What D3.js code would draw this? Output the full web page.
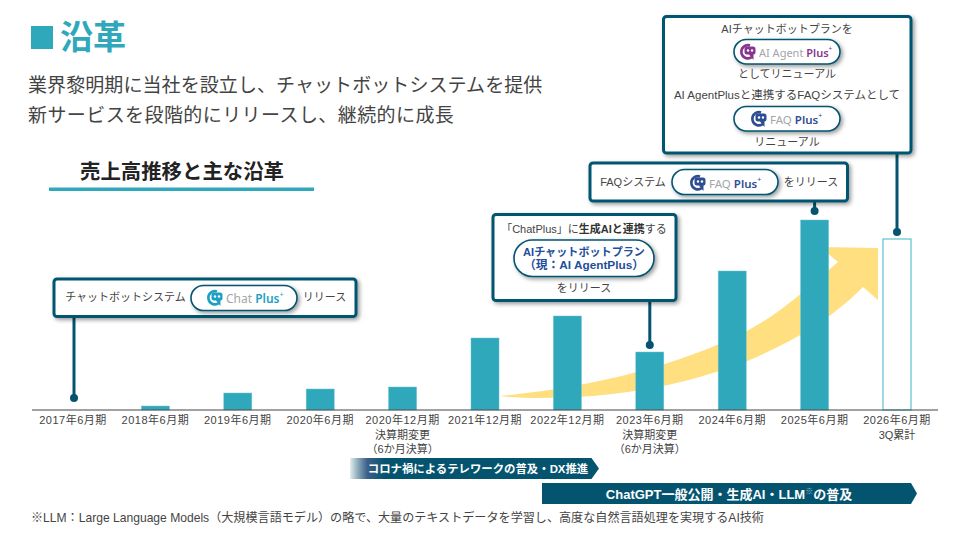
<!DOCTYPE html>
<html lang="ja">
<head>
<meta charset="utf-8">
<script src="https://cdnjs.cloudflare.com/ajax/libs/d3/7.8.5/d3.min.js"></script>
<style>
  html, body { margin: 0; padding: 0; background: #fff; }
  svg { display: block; }
  text { font-family: "Liberation Sans", "Noto Sans CJK JP", sans-serif; fill: #444; }
</style>
</head>
<body>
<script>
// chart data, the y axis has no labels so sales are in relative units
const categories = ["2017年6月期", "2018年6月期", "2019年6月期", "2020年6月期", "2020年12月期", "2021年12月期",
  "2022年12月期", "2023年6月期", "2024年6月期", "2025年6月期", "2026年6月期"];
const subLabels = [[], [], [], [], ["決算期変更", "（6か月決算）"], [], [], ["決算期変更", "（6か月決算）"], [], [], ["3Q累計"]];
const sales = [0, 4, 17, 21, 23, 72, 94, 58, 139, 190, 171];
const outlined = ["2026年6月期"];

const w = 968, h = 543;
const teal = "#2fa8bc", navy = "#04546f", yellow = "#ffdf80";

const svg = d3.select("body").append("svg").attr("width", w).attr("height", h);

// shadow for the callouts and pills
const defs = svg.append("defs");
defs.append("filter").attr("id", "shadow")
  .attr("x", "-10%").attr("y", "-20%").attr("width", "125%").attr("height", "150%")
  .append("feDropShadow").attr("dx", 2).attr("dy", 2).attr("stdDeviation", 2)
  .attr("flood-color", "#000").attr("flood-opacity", 0.4);
const fade = defs.append("linearGradient").attr("id", "fade");
fade.append("stop").attr("offset", "0%").attr("stop-color", "#04546f").attr("stop-opacity", 0.1);
fade.append("stop").attr("offset", "7%").attr("stop-color", "#3d5f88");
fade.append("stop").attr("offset", "14%").attr("stop-color", navy);

// scales
const x = d3.scaleBand().domain(categories).range([31.8, 938.2]).paddingInner(0.66).paddingOuter(0.33);
const y = d3.scaleLinear().domain([0, 200]).range([410, 210]);
const cx = c => x(c) + x.bandwidth() / 2;

function label(str, px, py, size, opts = {}) {
  return svg.append("text").attr("x", px).attr("y", py)
    .attr("font-size", size)
    .attr("text-anchor", opts.anchor || "middle")
    .attr("dominant-baseline", "central")
    .attr("font-weight", opts.weight || 400)
    .attr("letter-spacing", opts.spacing || null)
    .style("fill", opts.fill || "#444")
    .text(str);
}

// header
svg.append("rect").attr("x", 31).attr("y", 26).attr("width", 22).attr("height", 23).attr("fill", teal);
label("沿革", 60, 37, 33, { anchor: "start", weight: 700, fill: teal });
label("業界黎明期に当社を設立し、チャットボットシステムを提供", 28, 85, 19, { anchor: "start", spacing: 0.08 });
label("新サービスを段階的にリリースし、継続的に成長", 28, 115, 19, { anchor: "start", spacing: 0.42 });
label("売上高推移と主な沿革", 182, 172, 20.4, { weight: 700, fill: "#222" });
svg.append("rect").attr("x", 49).attr("y", 187.5).attr("width", 265).attr("height", 3.5).attr("fill", teal);

// growth arrow behind the bars
svg.append("path")
  .attr("d", "M499,396 C590,388 680,365 745,332 C780,314 805,290 838,262 L820,247 L878,248 L878,300 L863,287 " +
    "C825,325 785,345 745,362 C680,387 610,398 540,398 C525,398 510,397 499,396 Z")
  .attr("fill", yellow);

// bars
svg.selectAll("rect.bar")
  .data(categories.map((c, i) => ({ c, v: sales[i] })).filter(d => d.v > 0))
  .enter().append("rect")
  .attr("class", "bar")
  .attr("x", d => x(d.c))
  .attr("y", d => y(d.v))
  .attr("width", x.bandwidth())
  .attr("height", d => y(0) - y(d.v))
  .attr("fill", d => outlined.includes(d.c) ? "#fff" : teal)
  .attr("stroke", d => outlined.includes(d.c) ? "#5fc0d3" : "#6cc4d4")
  .attr("stroke-width", d => outlined.includes(d.c) ? 1.2 : 0.5);

// axis
const axis = svg.append("g").attr("transform", `translate(0,${y(0)})`)
  .call(d3.axisBottom(x).tickSize(0).tickPadding(4));
axis.select(".domain").remove();
axis.append("line").attr("x1", 32).attr("x2", 938).attr("stroke", "#444").attr("stroke-width", 1);
axis.selectAll(".tick text")
  .attr("font-size", 11)
  .attr("dy", null)
  .attr("y", 10)
  .attr("letter-spacing", 0.5)
  .attr("dominant-baseline", "central")
  .style("font-family", '"Liberation Sans", "Noto Sans CJK JP"');
axis.selectAll(".tick").each(function(c) {
  const i = categories.indexOf(c);
  subLabels[i].forEach((s, n) => {
    d3.select(this).append("text").attr("y", 25 + n * 13.5).attr("text-anchor", "middle")
      .attr("dominant-baseline", "central").attr("font-size", 11).text(s);
  });
});

// leader line from a callout down to a dot above the bar
function leader(cat, top, dotY, dx = 0) {
  const px = cx(cat) + dx;
  svg.append("line").attr("x1", px).attr("x2", px).attr("y1", top).attr("y2", dotY)
    .attr("stroke", navy).attr("stroke-width", 3);
  svg.append("circle").attr("cx", px).attr("cy", dotY).attr("r", 4).attr("fill", navy);
}
leader("2017年6月期", 316, y(12), 1);
leader("2023年6月期", 300, y(sales[7] + 7));
leader("2025年6月期", 200, y(sales[9] + 9));
leader("2026年6月期", 152, y(sales[10] + 7));

function box(x0, y0, x1, y1) {
  svg.append("rect").attr("x", x0).attr("y", y0).attr("width", x1 - x0).attr("height", y1 - y0)
    .attr("rx", 3).attr("fill", "#fff").attr("stroke", navy).attr("stroke-width", 3)
    .attr("filter", "url(#shadow)");
}
function pill(x0, y0, x1, y1) {
  svg.append("rect").attr("x", x0).attr("y", y0).attr("width", x1 - x0).attr("height", y1 - y0)
    .attr("rx", (y1 - y0) / 2).attr("fill", "#fff").attr("stroke", navy).attr("stroke-width", 1.6)
    .attr("filter", "url(#shadow)");
}
// chat bubble icon + product name
function logo(px, py, grey, plus, color, size) {
  const g = svg.append("g");
  g.append("path").attr("fill", "none").attr("stroke", color).attr("stroke-width", 2.6)
    .attr("d", `M${px + 5},${py + 5.5} A6.6,6.6 0 1 1 ${px + 3},${py - 6}`);
  g.append("path").attr("fill", color)
    .attr("d", `M${px - 2.5},${py - 2.5} Q${px - 2.5},${py - 5} ${px},${py - 5} L${px + 6},${py - 5} Q${px + 8.5},${py - 5} ${px + 8.5},${py - 2.5} ` +
      `L${px + 8.5},${py + 1} Q${px + 8.5},${py + 3} ${px + 6.5},${py + 3} L${px + 6.5},${py + 8.5} L${px + 2},${py + 3} L${px},${py + 3} Q${px - 2.5},${py + 3} ${px - 2.5},${py + 1} Z`);
  g.append("circle").attr("cx", px + 1).attr("cy", py - 1).attr("r", 1.2).attr("fill", "#fff");
  g.append("circle").attr("cx", px + 5).attr("cy", py - 1).attr("r", 1.2).attr("fill", "#fff");
  const t = g.append("text").attr("x", px + 12).attr("y", py).attr("font-size", size)
    .attr("dominant-baseline", "central").style("font-family", '"Noto Sans"');
  t.append("tspan").style("fill", "#a3a6a8").text(grey + " ");
  t.append("tspan").style("fill", color).attr("font-weight", 600).text(plus);
  t.append("tspan").style("fill", color).attr("font-size", size * 0.6).attr("dy", -4).text("+");
}

// callout: chat plus
box(54, 279, 356, 316.5);
label("チャットボットシステム", 125.5, 297, 11);
pill(191, 285.5, 297, 310.5);
logo(214, 297.5, "Chat", "Plus", "#1e9fc4", 12);
label("リリース", 324.5, 297, 11);

// callout: generative AI
box(493, 214.5, 676, 300.5);
const l1 = label("", 584, 229, 11);
l1.append("tspan").text("「ChatPlus」に");
l1.append("tspan").attr("font-weight", 700).style("fill", "#333").text("生成AIと連携");
l1.append("tspan").text("する");
pill(514, 240, 654, 276.5);
label("AIチャットボットプラン", 584, 252, 11.1, { weight: 700, fill: "#1f4e9c" });
label("（現：AI AgentPlus）", 584, 265, 11.8, { weight: 700, fill: "#1f4e9c" });
label("をリリース", 584, 288, 11);

// callout: FAQ plus
box(590, 163, 847.5, 201);
label("FAQシステム", 633, 182, 11);
pill(672, 169.5, 778, 194.5);
logo(697, 182.5, "FAQ", "Plus", "#2f4d92", 11.5);
label("をリリース", 811, 182, 11);

// callout: renewal
box(663.5, 16.5, 911, 153);
label("AIチャットボットプランを", 787, 29, 11);
pill(734, 39.5, 840, 64);
logo(747, 51.5, "AI Agent", "Plus", "#86368f", 11);
label("としてリニューアル", 787, 74, 11);
label("AI AgentPlusと連携するFAQシステムとして", 787, 95, 11.5);
pill(734, 106.5, 840, 131);
logo(758, 118.5, "FAQ", "Plus", "#2f4d92", 11.5);
label("リニューアル", 787, 142, 11);

// trend bands under the axis
svg.append("path").attr("d", "M350,458 L591.5,458 L599,468.5 L591.5,479 L350,479 Z").attr("fill", "url(#fade)");
label("コロナ禍によるテレワークの普及・DX推進", 478, 468.5, 11.4, { weight: 700, fill: "#fff" });
svg.append("path").attr("d", "M542,483 L911,483 L917,493.5 L911,504 L542,504 Z").attr("fill", navy);
const band = label("", 729, 493.5, 13, { weight: 700, fill: "#fff" });
band.append("tspan").style("fill", "#fff").text("ChatGPT一般公開・生成AI・LLM");
band.append("tspan").style("fill", "#9fc3cf").attr("font-size", 8).attr("dy", -3).text("※");
band.append("tspan").style("fill", "#fff").attr("dy", 3).text("の普及");

// footnote
label("※LLM：Large Language Models（大規模言語モデル）の略で、大量のテキストデータを学習し、高度な自然言語処理を実現するAI技術",
  31, 518, 12.1, { anchor: "start" });
</script>
</body>
</html>
